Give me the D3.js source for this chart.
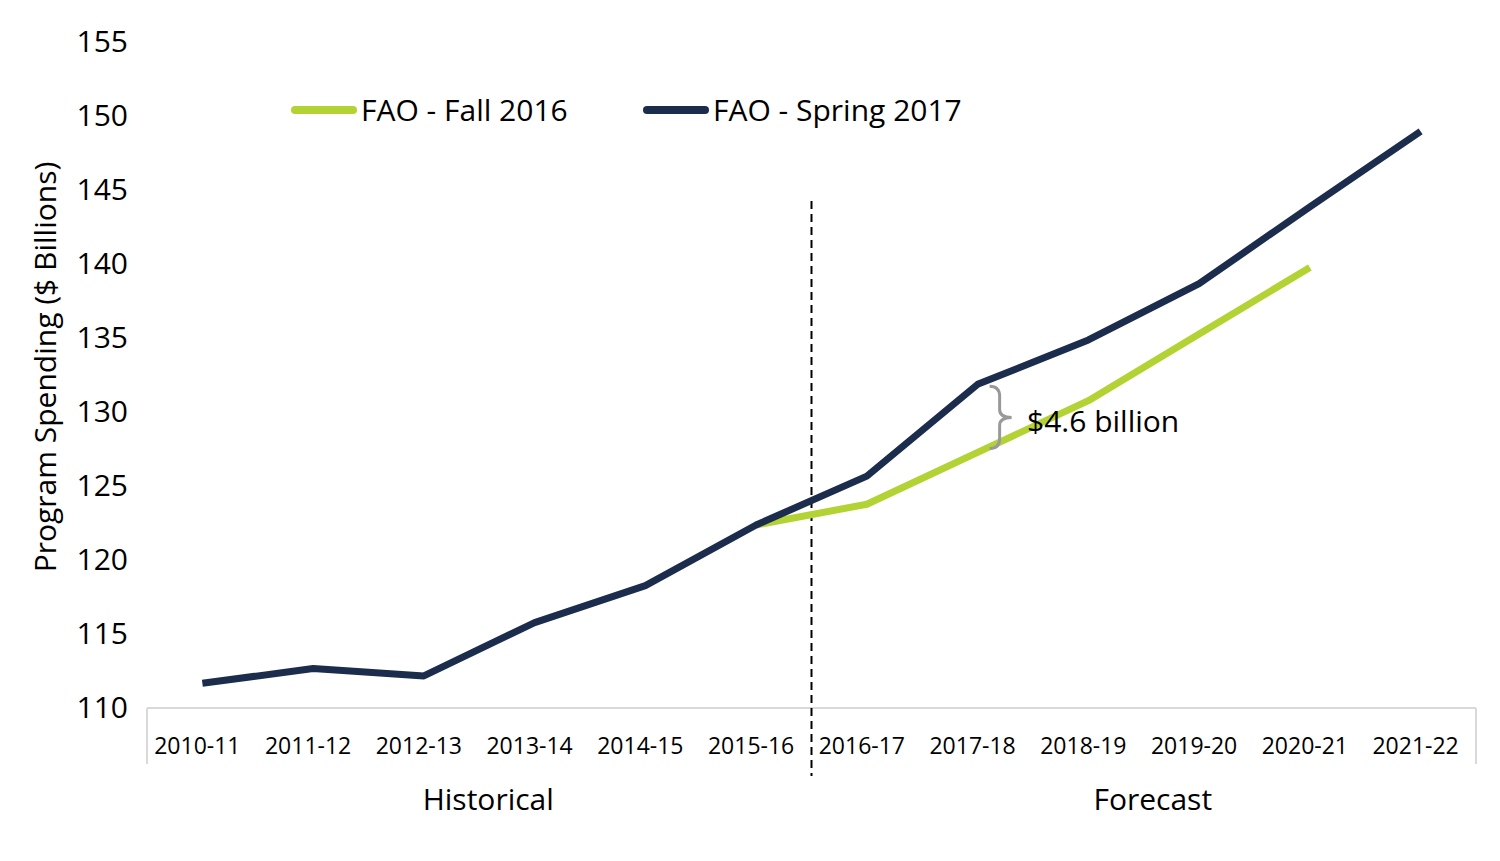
<!DOCTYPE html>
<html>
<head>
<meta charset="utf-8">
<script src="https://cdn.jsdelivr.net/npm/d3@7"></script>
<style>
  html, body { margin: 0; padding: 0; background: #fff; }
  svg { display: block; font-family: "Open Sans", "Noto Sans", sans-serif; }
</style>
</head>
<body>
<svg id="chart" width="1500" height="861"></svg>
<script>
const categories = ["2010-11","2011-12","2012-13","2013-14","2014-15","2015-16","2016-17","2017-18","2018-19","2019-20","2020-21","2021-22"];
const spring2017 = [111.6, 112.6, 112.1, 115.7, 118.2, 122.3, 125.6, 131.8, 134.8, 138.6, 143.8, 148.9];
const fall2016   = [null, null, null, null, null, 122.3, 123.7, 127.2, 130.7, 135.2, 139.7, null];
const yTicks = [110, 115, 120, 125, 130, 135, 140, 145, 150, 155];
const seriesNames = ["FAO - Fall 2016", "FAO - Spring 2017"];
const seriesColors = ["#B3D334", "#1B2C4C"];
const groups = [{label: "Historical", from: 0, to: 5}, {label: "Forecast", from: 6, to: 11}];
const gapLabel = "$4.6 billion";
const gapIndex = 7;

const svg = d3.select("#chart");
const x = d3.scaleBand().domain(categories).range([147, 1476]).padding(0);
const y = d3.scaleLinear().domain([110, 155]).range([707, 41]);
const cx = c => x(c) + x.bandwidth() / 2;

// y axis labels
const yAxis = d3.axisLeft(y).tickValues(yTicks).tickSize(0).tickPadding(0);
const gy = svg.append("g").attr("transform", "translate(128,0)").call(yAxis);
gy.select(".domain").remove();
gy.selectAll("text").attr("font-size", 30).attr("fill", "#000").attr("font-family", "Open Sans").attr("dy", "0.34em");

// y axis title
svg.append("text")
  .attr("transform", "translate(56,367) rotate(-90)")
  .attr("text-anchor", "middle")
  .attr("font-size", 30)
  .attr("fill", "#000")
  .text("Program Spending ($ Billions)");

// x axis frame
const axisColor = "#D9D9D9";
svg.append("line").attr("x1", x.range()[0]).attr("x2", x.range()[1]).attr("y1", 708).attr("y2", 708)
  .attr("stroke", axisColor).attr("stroke-width", 2);
[x.range()[0], x.range()[1]].forEach(px => {
  svg.append("line").attr("x1", px).attr("x2", px).attr("y1", 708).attr("y2", 764)
    .attr("stroke", axisColor).attr("stroke-width", 2);
});

// x tick labels
svg.append("g").selectAll("text").data(categories).join("text")
  .attr("x", d => cx(d) - 5)
  .attr("y", 754)
  .attr("text-anchor", "middle")
  .attr("font-size", 23)
  .attr("fill", "#000")
  .text(d => d);

// group labels
svg.append("g").selectAll("text").data(groups).join("text")
  .attr("x", g => (x(categories[g.from]) + x(categories[g.to]) + x.bandwidth()) / 2 + 9)
  .attr("y", 810)
  .attr("text-anchor", "middle")
  .attr("font-size", 30)
  .attr("fill", "#000")
  .text(g => g.label);

// separator dashed line
const sepX = x(categories[6]);
svg.append("line").attr("x1", sepX).attr("x2", sepX).attr("y1", 201).attr("y2", 776)
  .attr("stroke", "#000").attr("stroke-width", 2).attr("stroke-dasharray", "8,5");

// lines
const lineGen = d3.line().defined(d => d.v != null).x(d => cx(d.c)).y(d => y(d.v));
const allSeries = [fall2016, spring2017];
allSeries.forEach((vals, i) => {
  svg.append("path")
    .datum(categories.map((c, j) => ({c, v: vals[j]})))
    .attr("d", lineGen)
    .attr("fill", "none")
    .attr("stroke", seriesColors[i])
    .attr("stroke-width", 7)
    .attr("stroke-linejoin", "round");
});

// brace annotation
const bx = cx(categories[gapIndex]) + 12;
const yt = y(spring2017[gapIndex]) + 2;
const yb = y(fall2016[gapIndex]) - 4;
const ym = (yt + yb) / 2;
const bracePath = `M${bx},${yt} Q${bx + 10},${yt} ${bx + 10},${yt + 10} L${bx + 10},${ym - 8} Q${bx + 10},${ym} ${bx + 22},${ym} Q${bx + 10},${ym} ${bx + 10},${ym + 8} L${bx + 10},${yb - 10} Q${bx + 10},${yb} ${bx},${yb}`;
svg.append("path").attr("d", bracePath).attr("fill", "none").attr("stroke", "#999").attr("stroke-width", 3);
svg.append("text").attr("x", 1027).attr("y", ym + 15)
  .attr("font-size", 30).attr("fill", "#000").text(gapLabel);

// legend
const legendX = [291, 643];
seriesNames.forEach((name, i) => {
  const g = svg.append("g").attr("transform", `translate(${legendX[i]},110)`);
  g.append("line").attr("x1", 4).attr("x2", 62).attr("y1", 0).attr("y2", 0)
    .attr("stroke", seriesColors[i]).attr("stroke-width", 8).attr("stroke-linecap", "round");
  g.append("text").attr("x", 70).attr("y", 0).attr("dy", "0.35em")
    .attr("font-size", 30).attr("fill", "#000").text(name);
});
</script>
</body>
</html>
